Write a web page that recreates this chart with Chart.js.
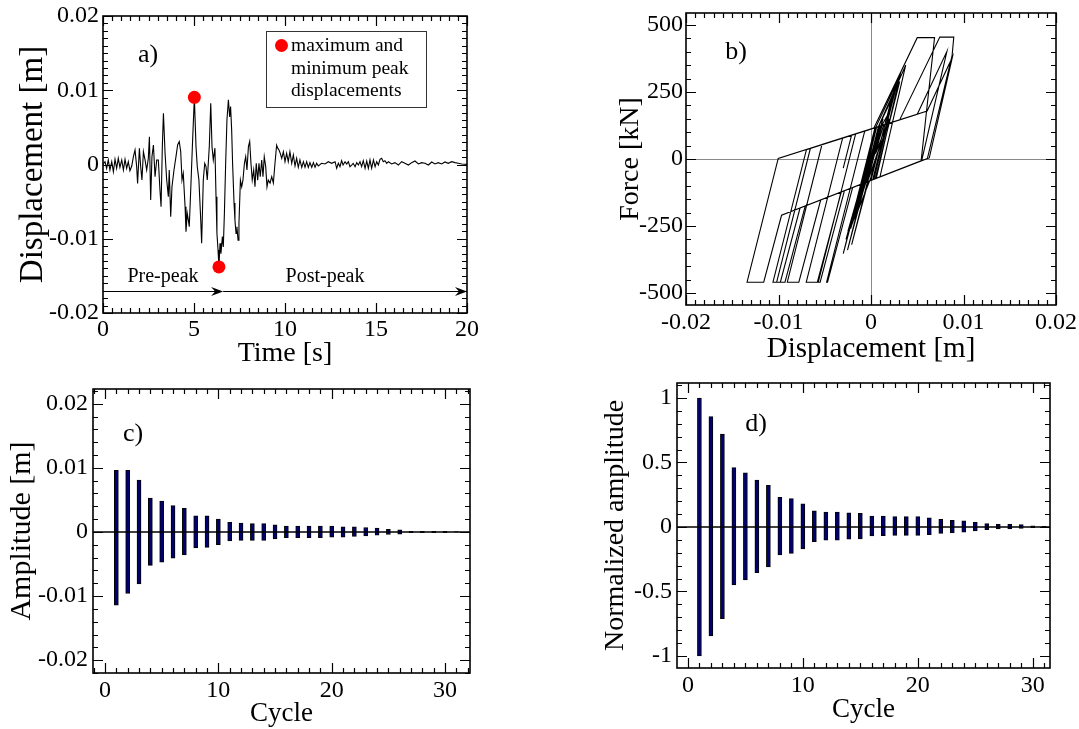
<!DOCTYPE html>
<html><head><meta charset="utf-8">
<script src="https://cdn.jsdelivr.net/npm/chart.js@4.4.1/dist/chart.umd.min.js"></script>
<style>
html,body{margin:0;padding:0;background:#fff;width:1079px;height:729px;overflow:hidden;position:relative}
canvas{position:absolute}
</style></head><body>
<canvas id="A"></canvas><canvas id="B"></canvas><canvas id="C"></canvas><canvas id="D"></canvas>
<script>
// ---------------- DATA ----------------
// a) displacement time history
const timeS = [
0.00,0.11,0.20,0.29,0.38,0.48,0.57,0.66,0.75,0.84,
0.93,1.03,1.12,1.21,1.30,1.39,1.48,1.58,1.67,1.76,
1.85,1.90,2.00,2.07,2.14,2.22,2.31,2.40,2.49,2.55,
2.62,2.69,2.77,2.86,2.95,3.04,3.13,3.19,3.26,3.32,
3.41,3.50,3.59,3.64,3.72,3.79,3.90,4.01,4.10,4.19,
4.27,4.34,4.41,4.51,4.56,4.63,4.69,4.74,4.82,4.91,
5.02,5.11,5.18,5.27,5.37,5.42,5.51,5.59,5.66,5.73,
5.84,5.92,5.99,6.06,6.15,6.21,6.26,6.32,6.37,6.43,
6.48,6.56,6.61,6.67,6.74,6.81,6.89,6.96,7.01,7.07,
7.12,7.20,7.25,7.31,7.36,7.42,7.47,7.55,7.62,7.69,
7.77,7.84,7.91,7.99,8.06,8.13,8.20,8.28,8.35,8.42,
8.50,8.57,8.64,8.72,8.79,8.86,8.94,9.01,9.08,9.18,
9.27,9.36,9.45,9.54,9.60,9.67,9.74,9.82,9.91,10.00,
10.09,10.18,10.27,10.37,10.46,10.55,10.64,10.73,10.82,10.92,
11.01,11.10,11.19,11.28,11.37,11.47,11.56,11.65,11.74,11.83,
12.01,12.20,12.38,12.56,12.75,12.84,12.93,13.02,13.11,13.19,
13.30,13.39,13.48,13.57,13.66,13.75,13.85,13.94,14.03,14.12,
14.21,14.30,14.40,14.49,14.58,14.67,14.76,14.86,14.95,15.04,
15.13,15.22,15.31,15.40,15.49,15.59,15.68,15.86,16.04,16.23,
16.41,16.59,16.78,16.96,17.14,17.33,17.51,17.69,17.88,18.06,
18.24,18.42,18.61,18.79,18.97,19.16,19.34,19.52,19.71,20.00];
const displacementM = [
0,0.00038,-0.00052,0.00061,-0.00074,0.00038,-0.00097,0.00070,-0.00052,0.00083,
-0.00038,0.00061,-0.00074,0.00070,-0.00052,0.00038,-0.00083,-0.00020,0.00105,0.00195,
-0.00029,-0.00254,0.00218,-0.00029,-0.00209,0.00173,0.00061,-0.00074,0.00083,0.00375,
-0.00478,0.00105,0.00263,-0.00164,0.00061,0.00061,-0.00343,-0.00568,0.00240,0.00689,
0.00150,-0.00209,-0.00433,-0.00074,-0.00703,-0.00299,-0.00074,0.00105,0.00263,0.00308,
0.00173,-0.00209,-0.00119,-0.00568,-0.00905,-0.00658,-0.00747,-0.00837,-0.00343,0.00240,
0.00905,0.00240,-0.00029,-0.00209,-0.00747,-0.01062,-0.00209,0.00016,-0.00029,-0.00209,
0.00240,0.00824,0.00240,0.00061,0.00220,-0.00433,-0.00927,-0.01150,-0.01380,-0.01060,
-0.01200,-0.00970,-0.01110,-0.00660,0.00016,0.00600,0.00870,0.00640,0.00780,0.00460,
0.00016,-0.00520,-0.00750,-0.00930,-0.00840,-0.01020,-0.00790,-0.00210,-0.00300,-0.00210,
0.00016,0.00105,-0.00074,0.00240,0.00310,0.00016,-0.00210,-0.00074,-0.00300,0.00016,
-0.00210,0.00016,-0.00164,0.00061,-0.00164,0.00105,-0.00029,-0.00300,-0.00210,-0.00250,
-0.00164,-0.00250,0.00016,0.00260,0.00220,0.00195,0.00150,0.00083,0.00173,0.00038,
0.00150,0.00038,0.00173,0.00016,0.00128,-0.00020,0.00083,-0.00038,0.00061,-0.00038,
0.00038,-0.00038,0.00038,-0.00038,0.00025,-0.00038,0.00025,-0.00038,0.00016,-0.00020,
0.00016,0.00007,0.00038,0.00016,0.00038,-0.00052,0.00016,-0.00029,0.00052,-0.00007,
0.00038,0.00007,0.00038,-0.00029,-0.00007,0.00016,-0.00029,0.00025,-0.00007,0.00038,
-0.00029,0.00052,-0.00052,0.00047,-0.00052,0.00061,-0.00052,0.00061,-0.00029,0.00038,
-0.00007,0.00070,0.00083,0.00038,0.00052,0.00016,0.00038,0.00007,0.00025,-0.00007,
0.00038,0.00016,-0.00007,0.00025,0.00047,0.00007,0.00025,0.00016,-0.00007,0.00034,
0.00007,0.00025,0.00007,0.00034,0.00016,0.00038,0.00025,0.00016,0.00007,0.00002];
const peakTime = [5.02, 6.37];
const peakDisp = [0.00905, -0.0138];
const phaseSplitTime = 6.6;      // end of pre-peak arrow
const phaseArrowDisp = -0.0171;  // level of the phase arrows

// b) force-displacement hysteresis (path vertices)
const hystDisp = [
0,0.0004,-0.0003,0.0006,-0.0005,0.0005,-0.0008,0.0007,-0.0004,0.00105,
0.0005,0.00195,0.0003,-0.0006,-0.00254,0.00083,0.00218,0,-0.0003,-0.00209,
0.00116,0.00173,-0.00002,-0.00074,0.0008,0.00375,0.00097,-0.00198,-0.0047,-0.0048,
-0.00068,0.0005,0.0026,0.00029,-0.00287,-0.0055,-0.0057,-0.00166,0.0003,0.005,
0.00687,0.00542,-0.00321,-0.0058,-0.007,-0.00307,0.0005,0.0031,0.00057,-0.00544,
-0.0078,-0.00905,-0.0053,0.0031,0.00744,0.00895,0.00877,0.0061,-0.00767,-0.0098,
-0.0106,-0.00698,0.005,0.0082,0.00548,-0.00967,-0.0116,-0.0134,-0.01003,0.00607,
0.0088,0.0063,-0.00711,-0.0093,-0.0102,-0.00655,-0.0021,-0.003,-0.0021,0.00105,
-0.00049,-0.00074,0.0008,0.0031,0.00045,-0.001,-0.0021,-0.00074,-0.003,0.00016,
-0.0021,0.00016,-0.00164,0.00043,0.00061,-0.00093,-0.00164,0.0005,0.00105,-0.00048,
-0.001,-0.003,-0.0021,-0.0025,-0.00164,-0.0025,0.00043,0.0008,0.0026,0.00019,
0.00128,-0.00038,0.00083,-0.0001,0.0006,0,0.0004,0.0001,-0.0015,0.0009,
-0.0022,0.0012,-0.0018,0.0006,-0.0027,0.0014,-0.0012,0.001,-0.002,0.0004,
-0.0008,0.0013,-0.0025,0.0002];
const hystForce = [
0,40,-30,60,-50,55,-80,70,-45,95,
20,150,-76,-88,-340,121,220,-80,-84,-320,
125,160,-80,-90,121,350,-67,-106,-460,-460,
104,117,271,-76,-118,-460,-460,94,115,453,
453,-7,-123,-460,-460,78,117,307,-72,-153,
-460,-460,54,146,455,455,387,2,-183,-460,
-460,35,167,401,-6,-210,-460,-460,2,179,
380,4,-175,-460,-460,40,89,-34,89,124,
-87,-90,121,289,-74,-93,-236,-50,-353,80,
-230,80,-167,117,119,-92,-176,117,124,-87,
-93,-353,-230,-285,-167,-285,117,121,252,-77,
75,-85,35,-81,15,-70,-20,-60,-200,122,
-260,126,-225,118,-300,130,-160,124,-240,100,
-110,150,-270,60];

// c) and d) cycle amplitudes
const cycles = [1,2,3,4,5,6,7,8,9,10,11,12,13,14,15,16,17,18,19,20,21,22,23,24,25,26,27,28,29,30,31];
const ampMax = [0.0096,0.0096,0.0081,0.0053,0.0048,0.0041,0.0037,0.0025,0.0025,0.0020,
0.0015,0.0014,0.0013,0.0013,0.0011,0.0009,0.0009,0.0009,0.0009,0.0009,
0.0008,0.0008,0.0007,0.0006,0.0004,0.00035,0.0001,0.0001,0.0001,0.0001,0.00005];
const ampMin = [-0.0114,-0.0096,-0.0081,-0.0052,-0.0047,-0.0041,-0.0036,-0.0025,-0.0024,-0.0020,
-0.0014,-0.0013,-0.0013,-0.0013,-0.0011,-0.0009,-0.0009,-0.0009,-0.0009,-0.0008,
-0.0008,-0.0007,-0.0006,-0.0005,-0.0004,-0.00035,-0.0001,-0.0001,-0.0001,-0.0001,-0.00005];
const normMax = [1.0,0.855,0.72,0.46,0.42,0.364,0.323,0.23,0.22,0.18,
0.126,0.116,0.116,0.11,0.105,0.085,0.085,0.08,0.08,0.08,
0.07,0.06,0.052,0.047,0.036,0.026,0.02,0.02,0.018,0.008,0.005];
const normMin = [-1.0,-0.845,-0.71,-0.45,-0.41,-0.354,-0.31,-0.217,-0.204,-0.17,
-0.114,-0.103,-0.103,-0.095,-0.093,-0.07,-0.067,-0.065,-0.065,-0.065,
-0.06,-0.05,-0.046,-0.04,-0.03,-0.02,-0.015,-0.015,-0.012,-0.005,-0.003];

// tick values / labels
const timeTicks = [0,5,10,15,20];
const timeTickLabels = ['0','5','10','15','20'];
const dispTicks = [-0.02,-0.01,0,0.01,0.02];
const dispTickLabels = ['-0.02','-0.01','0','0.01','0.02'];
const forceTicks = [-500,-250,0,250,500];
const forceTickLabels = ['-500','-250','0','250','500'];
const cycleTicks = [0,10,20,30];
const cycleTickLabels = ['0','10','20','30'];
const normTicks = [-1,-0.5,0,0.5,1];
const normTickLabels = ['-1','-0.5','0','0.5','1'];

// ---------------- RENDERING ----------------
const SERIF = '"Liberation Serif","Times New Roman",Times,serif';
Chart.defaults.font.family = SERIF;
Chart.defaults.color = '#000';

const extras = {};

function drawScaleTicks(ctx, a, scale, horiz, majors, minorStep, majLen, minLen) {
  const start = Math.ceil(scale.min / minorStep - 1e-6);
  const end = Math.floor(scale.max / minorStep + 1e-6);
  ctx.beginPath();
  for (let k = start; k <= end; k++) {
    const v = k * minorStep;
    const isMajor = majors.some(m => Math.abs(m - v) < minorStep * 1e-3);
    const len = isMajor ? majLen : minLen;
    const p = Math.round(scale.getPixelForValue(v)) + 0.5;
    if (horiz) { ctx.moveTo(p, a.bottom); ctx.lineTo(p, a.bottom - len); ctx.moveTo(p, a.top); ctx.lineTo(p, a.top + len); }
    else { ctx.moveTo(a.left, p); ctx.lineTo(a.left + len, p); ctx.moveTo(a.right, p); ctx.lineTo(a.right - len, p); }
  }
  ctx.stroke();
}

const framePlugin = {
  id: 'frame',
  beforeDatasetsDraw(chart) {
    const e = extras[chart.canvas.id]; const {ctx, chartArea: a, scales: {x, y}} = chart;
    if (e.axisLines) {
      ctx.save(); ctx.strokeStyle = e.axisLines.color; ctx.lineWidth = e.axisLines.width;
      const px = Math.round(x.getPixelForValue(0)) + 0.5, py = Math.round(y.getPixelForValue(0)) + 0.5;
      ctx.beginPath(); ctx.moveTo(px, a.top); ctx.lineTo(px, a.bottom); ctx.moveTo(a.left, py); ctx.lineTo(a.right, py); ctx.stroke();
      ctx.restore();
    }
  },
  afterDatasetsDraw(chart) {
    const e = extras[chart.canvas.id]; const {ctx, chartArea: a, scales: {x, y}} = chart;
    ctx.save();
    if (e.zeroLine) {
      const py = y.getPixelForValue(0);
      ctx.strokeStyle = '#000'; ctx.lineWidth = 1.5;
      ctx.beginPath(); ctx.moveTo(a.left, py); ctx.lineTo(a.right, py); ctx.stroke();
    }
    if (e.arrows) {
      ctx.strokeStyle = '#000'; ctx.fillStyle = '#000'; ctx.lineWidth = 1;
      const py = Math.round(y.getPixelForValue(e.arrows.y)) + 0.5;
      for (const [from, to] of e.arrows.segs) {
        const x0 = x.getPixelForValue(from), x1 = x.getPixelForValue(to);
        ctx.beginPath(); ctx.moveTo(x0, py); ctx.lineTo(x1 - 4, py); ctx.stroke();
        ctx.beginPath(); ctx.moveTo(x1, py); ctx.lineTo(x1 - 12, py - 4.5); ctx.lineTo(x1 - 8, py); ctx.lineTo(x1 - 12, py + 4.5); ctx.closePath(); ctx.fill();
      }
    }
    ctx.restore();
  },
  afterDraw(chart) {
    const e = extras[chart.canvas.id]; const {ctx, chartArea: a, scales: {x, y}} = chart;
    const ox = e.box.x, oy = e.box.y;
    ctx.save();
    ctx.strokeStyle = '#000'; ctx.lineWidth = 1.2;
    drawScaleTicks(ctx, a, x, true, e.xMajor, e.xMinor, 10, 5);
    drawScaleTicks(ctx, a, y, false, e.yMajor, e.yMinor, 10, 5);
    ctx.lineWidth = 1.6;
    ctx.strokeRect(a.left, a.top, a.right - a.left, a.bottom - a.top);
    if (e.legendBox) {
      const L = e.legendBox;
      ctx.lineWidth = 1; ctx.strokeStyle = '#333';
      ctx.strokeRect(L.x - ox + 0.5, L.y - oy + 0.5, L.w, L.h);
      ctx.fillStyle = '#ff0000';
      ctx.beginPath(); ctx.arc(L.dotX - ox, L.dotY - oy, 6.5, 0, Math.PI * 2); ctx.fill();
    }
    ctx.fillStyle = '#000';
    for (const t of e.texts) {
      ctx.font = t.size + 'px ' + SERIF;
      ctx.textAlign = t.align || 'center'; ctx.textBaseline = 'middle';
      ctx.fillText(t.text, t.x - ox, t.y - oy);
    }
    ctx.restore();
  }
};

function makeChart(id, box, plot, spec) {
  const cv = document.getElementById(id);
  cv.width = box.w; cv.height = box.h;
  Object.assign(cv.style, {left: box.x + 'px', top: box.y + 'px', width: box.w + 'px', height: box.h + 'px'});
  const bottomEdge = box.y + box.h;
  const tickSize = 24;
  const xlh = spec.xTitleSize * 1.2, ylh = spec.yTitleSize * 1.2;
  extras[id] = Object.assign({box}, spec.extra);
  return new Chart(cv, {
    type: spec.type,
    data: spec.data,
    options: {
      responsive: false, animation: false, devicePixelRatio: 1,
      layout: {padding: {left: 0, top: plot.t - box.y, right: box.x + box.w - plot.r, bottom: 0}},
      plugins: {legend: {display: false}, tooltip: {enabled: false}},
      scales: {
        x: {
          type: 'linear', min: spec.x.min, max: spec.x.max, offset: false,
          afterFit: s => { s.height = bottomEdge - plot.b; },
          afterBuildTicks: s => { s.ticks = spec.x.ticks.map(v => ({value: v})); },
          grid: {display: false, drawTicks: false}, border: {display: false},
          ticks: {autoSkip: false, maxRotation: 0, minRotation: 0, padding: spec.x.pad, color: '#000',
                  font: {size: tickSize, lineHeight: 1.2}, callback: (v, i) => spec.x.labels[i]},
          title: {display: true, text: spec.x.title, color: '#000', font: {size: spec.xTitleSize, lineHeight: 1.2},
                  padding: {top: 0, bottom: bottomEdge - spec.x.titleY - xlh / 2}}
        },
        y: {
          type: 'linear', min: spec.y.min, max: spec.y.max,
          afterFit: s => { s.width = plot.l - box.x; },
          afterBuildTicks: s => { s.ticks = spec.y.ticks.map(v => ({value: v})); },
          grid: {display: false, drawTicks: false}, border: {display: false},
          ticks: {autoSkip: false, padding: spec.y.pad, color: '#000',
                  font: {size: tickSize, lineHeight: 1.2}, callback: (v, i) => spec.y.labels[i]},
          title: {display: true, text: spec.y.title, color: '#000', font: {size: spec.yTitleSize, lineHeight: 1.2},
                  padding: {top: spec.y.titleX - box.x - ylh / 2, bottom: 0}}
        }
      }
    },
    plugins: [framePlugin]
  });
}

// ---- a) ----
makeChart('A', {x: 0, y: -30, w: 540, h: 410}, {l: 103, t: 16, r: 467, b: 313}, {
  type: 'line',
  data: {datasets: [
    {data: peakTime.map((t, i) => ({x: t, y: peakDisp[i]})), showLine: false, pointRadius: 6.5,
     pointBackgroundColor: '#ff0000', pointBorderColor: '#ff0000', pointBorderWidth: 0, order: 0},
    {data: timeS.map((t, i) => ({x: t, y: displacementM[i]})), borderColor: '#000', borderWidth: 1.1,
     pointRadius: 0, tension: 0, fill: false, order: 1}
  ]},
  x: {min: 0, max: 20, ticks: timeTicks, labels: timeTickLabels, pad: 2, title: 'Time [s]', titleY: 354},
  y: {min: -0.02, max: 0.02, ticks: dispTicks, labels: dispTickLabels, pad: 4, title: 'Displacement [m]', titleX: 33},
  xTitleSize: 28, yTitleSize: 33,
  extra: {
    xMajor: timeTicks, xMinor: 0.5, yMajor: dispTicks, yMinor: 0.001,
    arrows: {y: phaseArrowDisp, segs: [[0, phaseSplitTime], [phaseSplitTime, 20]]},
    legendBox: {x: 266, y: 31, w: 160, h: 76, dotX: 281.5, dotY: 45.5},
    texts: [
      {text: 'a)', x: 148, y: 55, size: 26},
      {text: 'maximum and', x: 291, y: 45.5, size: 19.5, align: 'left'},
      {text: 'minimum peak', x: 291, y: 68.5, size: 19.5, align: 'left'},
      {text: 'displacements', x: 291, y: 91, size: 19.5, align: 'left'},
      {text: 'Pre-peak', x: 163, y: 277, size: 20},
      {text: 'Post-peak', x: 325, y: 277, size: 20}
    ]
  }
});

// ---- b) ----
makeChart('B', {x: 560, y: -30, w: 540, h: 410}, {l: 686, t: 13, r: 1056, b: 305}, {
  type: 'scatter',
  data: {datasets: [
    {data: hystDisp.map((d, i) => ({x: d, y: hystForce[i]})), showLine: true, borderColor: '#000',
     borderWidth: 1.1, pointRadius: 0, tension: 0}
  ]},
  x: {min: -0.02, max: 0.02, ticks: dispTicks, labels: dispTickLabels, pad: 3, title: 'Displacement [m]', titleY: 349},
  y: {min: -545, max: 545, ticks: forceTicks, labels: forceTickLabels, pad: 3, title: 'Force [kN]', titleX: 631},
  xTitleSize: 29, yTitleSize: 28,
  extra: {
    xMajor: dispTicks, xMinor: 0.001, yMajor: forceTicks, yMinor: 50,
    axisLines: {color: '#8a8a8a', width: 1},
    texts: [{text: 'b)', x: 736, y: 52, size: 26}]
  }
});

// ---- c) ----
makeChart('C', {x: 0, y: 340, w: 540, h: 400}, {l: 93, t: 389, r: 470, b: 673}, {
  type: 'bar',
  data: {datasets: [
    {data: cycles.map((c, i) => ({x: c, y: [ampMin[i], ampMax[i]]})), backgroundColor: '#000070',
     borderColor: '#000', borderWidth: 1, borderSkipped: false, barThickness: 4}
  ]},
  x: {min: -1.06, max: 32.2, ticks: cycleTicks, labels: cycleTickLabels, pad: 3, title: 'Cycle', titleY: 714},
  y: {min: -0.022, max: 0.0223, ticks: dispTicks, labels: dispTickLabels, pad: 5, title: 'Amplitude [m]', titleX: 22},
  xTitleSize: 27, yTitleSize: 30,
  extra: {
    xMajor: cycleTicks, xMinor: 1, yMajor: dispTicks, yMinor: 0.002, zeroLine: true,
    texts: [{text: 'c)', x: 133, y: 434, size: 26}]
  }
});

// ---- d) ----
makeChart('D', {x: 560, y: 340, w: 540, h: 400}, {l: 677, t: 383, r: 1050, b: 668}, {
  type: 'bar',
  data: {datasets: [
    {data: cycles.map((c, i) => ({x: c, y: [normMin[i], normMax[i]]})), backgroundColor: '#000070',
     borderColor: '#000', borderWidth: 1, borderSkipped: false, barThickness: 4}
  ]},
  x: {min: -0.95, max: 31.5, ticks: cycleTicks, labels: cycleTickLabels, pad: 3, title: 'Cycle', titleY: 710},
  y: {min: -1.093, max: 1.116, ticks: normTicks, labels: normTickLabels, pad: 5, title: 'Normalized amplitude', titleX: 616},
  xTitleSize: 27, yTitleSize: 28,
  extra: {
    xMajor: cycleTicks, xMinor: 1, yMajor: normTicks, yMinor: 0.1, zeroLine: true,
    texts: [{text: 'd)', x: 756, y: 424, size: 26}]
  }
});
</script>
</body></html>
